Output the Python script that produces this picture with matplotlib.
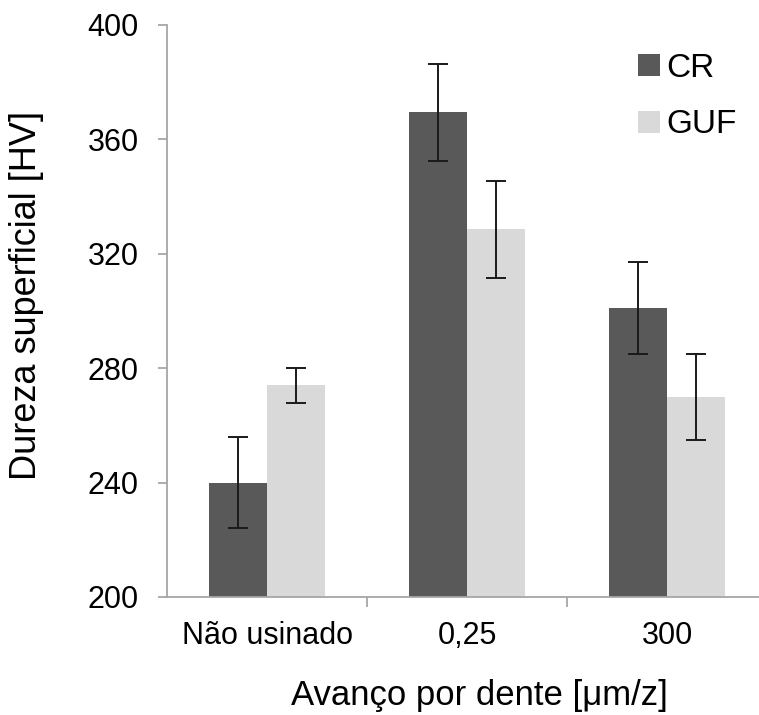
import numpy as np
import matplotlib.pyplot as plt

# Dureza superficial por avanço por dente
categorias = ["Não usinado", "0,25", "300"]
cr_media = [240, 369.5, 301]
cr_erro = [16, 17, 16]
guf_media = [274, 328.5, 270]
guf_erro = [6, 17, 15]

plt.rcParams['font.family'] = ['Liberation Sans', 'DejaVu Sans']

fig = plt.figure(figsize=(7.59, 7.15), dpi=100)
ax = fig.add_axes([167 / 759, 118 / 715, 592 / 759, 572 / 715])

x = np.arange(len(categorias))
w = 0.29
ek = dict(ecolor='#1a1a1a', elinewidth=1.4, capthick=1.4)
ax.bar(x - w / 2, cr_media, w, color='#595959', label='CR',
       yerr=cr_erro, capsize=7, error_kw=ek)
ax.bar(x + w / 2, guf_media, w, color='#d9d9d9', label='GUF',
       yerr=guf_erro, capsize=7, error_kw=ek)

ax.set_ylim(200, 400)
ax.set_yticks(np.arange(200, 401, 40))
ax.set_xlim(-0.5, 2.46)
ax.set_xticks(x)
ax.set_xticklabels(categorias)
ax.set_xticks([0.5, 1.5], minor=True)

for s in ['top', 'right']:
    ax.spines[s].set_visible(False)
for s in ['left', 'bottom']:
    ax.spines[s].set_color('#a6a6a6')
    ax.spines[s].set_linewidth(1.3)

ax.tick_params(axis='y', colors='#a6a6a6', length=6.5, width=1.3, labelsize=22,
               labelcolor='black', pad=14)
ax.tick_params(axis='x', which='major', length=0, labelsize=22, pad=17)
ax.tick_params(axis='x', which='minor', colors='#a6a6a6', length=7, width=1.3)

ax.set_ylabel("Dureza superficial [HV]", fontsize=26)
ax.yaxis.set_label_coords(-0.207, 0.528)
ax.set_xlabel("Avanço por dente [μm/z]", fontsize=25)
ax.xaxis.set_label_coords(0.527, -0.143)

ax.legend(loc='upper left', bbox_to_anchor=(638 / 759, 1 - 53 / 715),
          bbox_transform=fig.transFigure, frameon=False, fontsize=24,
          borderpad=0, borderaxespad=0,
          handlelength=0.65, handleheight=0.65, handletextpad=0.2, labelspacing=0.76)

fig.savefig("out.png", dpi=100)
